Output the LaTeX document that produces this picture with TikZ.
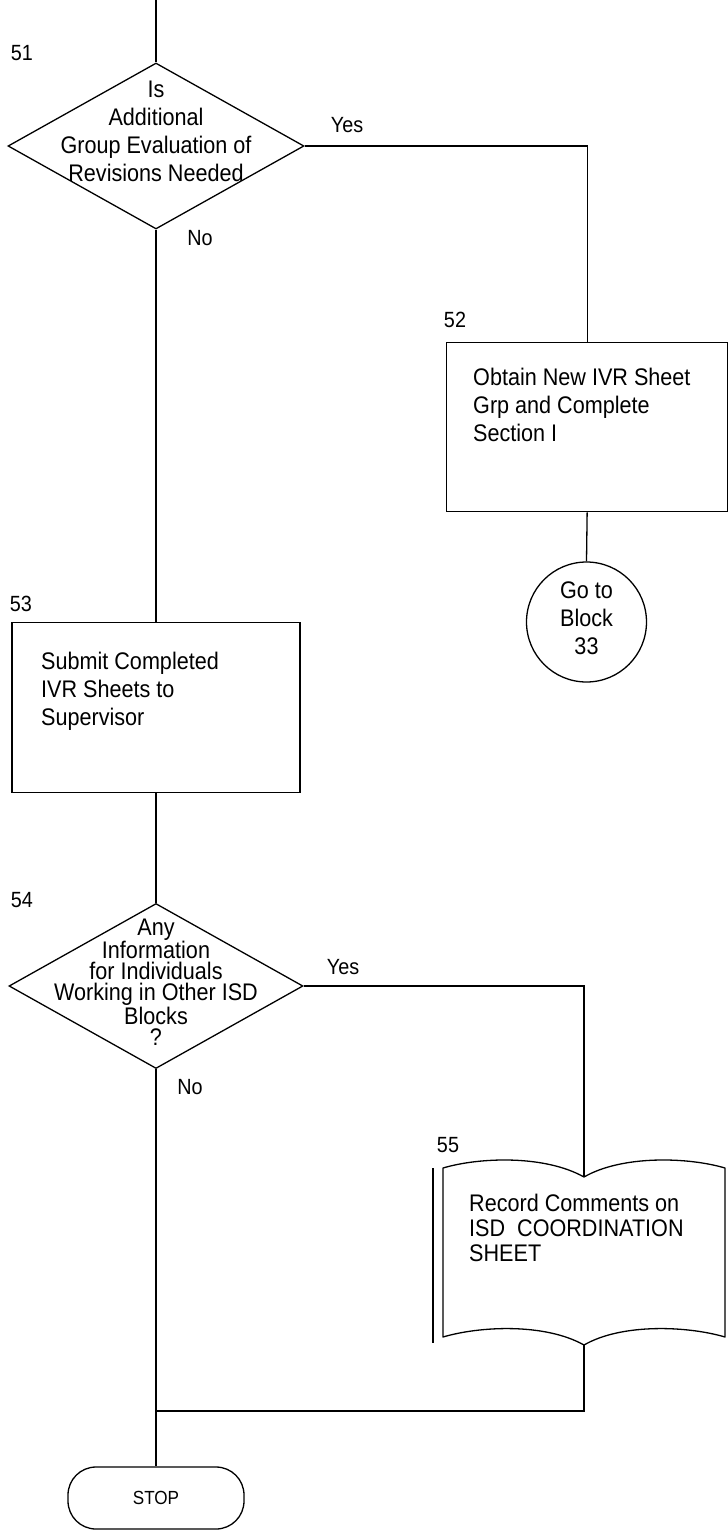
\documentclass[tikz,border=0pt]{standalone}
\usepackage{fontspec}
\setmainfont{Liberation Sans}[FakeStretch=0.9]
\usetikzlibrary{shapes.geometric}
\begin{document}
\begin{tikzpicture}[x=1pt,y=-1pt,
  conn/.style={draw=black, line width=1.3pt},
  shp/.style={draw=black, line width=1.3pt},
  txt/.style={font=\fontsize{24}{28}\selectfont, inner sep=0pt},
  tighttxt/.style={font=\fontsize{24}{21}\selectfont, inner sep=0pt},
  lbl/.style={font=\fontsize{22}{24}\selectfont, inner sep=0pt},
  dia/.style={diamond, shp, inner sep=0pt, minimum width=296pt, minimum height=166pt}
]
\useasboundingbox (0,0) rectangle (728,1531);

% --- block 51 ---
\coordinate (topin) at (156,0);
\node[dia] (d51) at (156,146) {};
\node[txt, align=center] (t51) at (156,131) {Is\\Additional\\Group Evaluation of\\Revisions Needed};
\node[lbl] (n51) at (22,53) {51};
\node[lbl] (y51) at (347,125) {Yes};
\node[lbl] (no51) at (200,238) {No};

% --- block 52 ---
\node[shp, rectangle, inner sep=0pt, minimum width=281pt, minimum height=169pt, anchor=north west] (b52) at (446,342) {};
\node[txt, align=left, anchor=north west] (t52) at (473,368) {Obtain New IVR Sheet\\Grp and Complete\\Section I};
\node[lbl] (n52) at (455,320) {52};

% --- connector circle ---
\node[circle, shp, inner sep=0pt, minimum size=120pt] (c33) at (586.5,622) {};
\node[txt, align=center] (t33) at (586.5,618) {Go to\\Block\\33};

% --- block 53 ---
\node[shp, rectangle, inner sep=0pt, minimum width=288pt, minimum height=170pt, anchor=north] (b53) at (156,622) {};
\node[txt, align=left, anchor=north west] (t53) at (41,652) {Submit Completed\\IVR Sheets to\\Supervisor};
\node[lbl] (n53) at (21,604) {53};

% --- block 54 ---
\node[dia, minimum width=294pt, minimum height=165pt] (d54) at (156,986) {};
\node[tighttxt, align=center] (t54) at (156,982) {Any\\Information\\for Individuals\\Working in Other ISD\\Blocks\\?};
\node[lbl] (n54) at (22,900) {54};
\node[lbl] (y54) at (343,967) {Yes};
\node[lbl] (no54) at (190,1087) {No};

% --- block 55 (document) ---
\node[inner sep=0pt, minimum width=282pt, minimum height=177pt, anchor=north west] (d55) at (443,1168) {};
\coordinate (d55lt) at (443,1168);
\coordinate (d55rt) at (725,1168);
\coordinate (d55td) at (584,1177);
\coordinate (d55lb) at (443,1337);
\coordinate (d55rb) at (725,1337);
\coordinate (d55bd) at (584,1345);
\draw[shp, line join=round] (d55lt) .. controls (480,1157) and (545,1155) .. (d55td)
  .. controls (622,1155) and (688,1157) .. (d55rt) -- (d55rb)
  .. controls (688,1326) and (622,1323) .. (d55bd)
  .. controls (545,1323) and (480,1326) .. (d55lb) -- cycle;
\coordinate (d55xa) at (433,1168);
\coordinate (d55xb) at (433,1343);
\draw[shp] (d55xa) -- (d55xb);
\node[txt, align=left, anchor=north west, font=\fontsize{24}{25}\selectfont] (t55) at (469,1194) {Record Comments on\\ISD\ \ COORDINATION\\SHEET};
\node[lbl] (n55) at (448,1145) {55};

% --- stop ---
\node[shp, rectangle, rounded corners=28pt, minimum width=176pt, minimum height=62pt, font=\fontsize{19}{22}\selectfont] (stop) at (156,1498) {STOP};
\coordinate (join) at (156,1411);

% --- connectors ---
\draw[conn] (topin) -- (d51.north);
\draw[conn] (d51.east) -| (b52.north);
\draw[conn] (b52.south) -- (c33.north);
\draw[conn] (d51.south) -- (b53.north);
\draw[conn] (b53.south) -- (d54.north);
\draw[conn] (d54.east) -| (d55td);
\draw[conn] (d54.south) -- (stop.north);
\draw[conn] (d55bd) |- (join);
\end{tikzpicture}
\end{document}
